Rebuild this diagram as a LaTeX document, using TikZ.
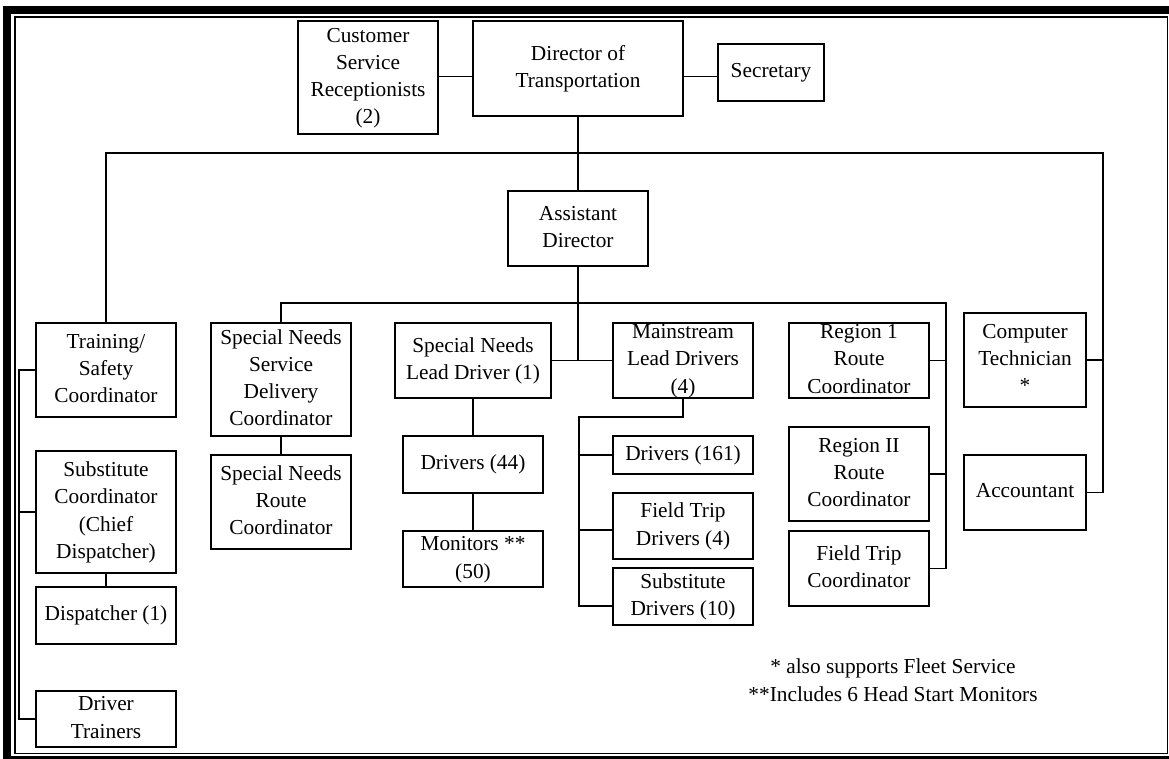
\documentclass[tikz,border=0pt]{standalone}
\usepackage{fontspec}
\setmainfont{Liberation Serif}
\usetikzlibrary{calc}

% A post of the chart: name, left, top, right, bottom (in px), text lines
\newcommand\orgunit[6]{%
  \pgfmathsetlengthmacro\bxw{(#4-#2)*0.75pt}%
  \pgfmathsetlengthmacro\bxh{(#5-#3)*0.75pt}%
  \node[post, minimum width=\bxw, minimum height=\bxh] (#1)
    at ({(#2+#4)/2},{(#3+#5)/2})
    {\vbox to \bxh{\vss\hbox{\begin{tabular}{@{}c@{}}#6\end{tabular}}\vss}};}

\tikzset{
  post/.style={draw=black, line width=0.85pt, inner sep=0pt, outer sep=0pt, fill=white},
  link/.style={draw=black, line width=0.8pt},
  note/.style={inner sep=0pt},
  outerframe/.style={draw=black, line width=6pt},
  innerframe/.style={draw=black, line width=1.4pt}
}

\begin{document}
\begin{tikzpicture}[x=0.75pt, y=-0.75pt, font=\fontsize{16}{20.4}\selectfont]
\useasboundingbox (0,0) rectangle (1169,759);

% page frame: heavy outer rule, thin inner rule
\begin{scope}
  \clip (0,0) rectangle (1169,759);
  \draw[outerframe] (7.2,10) rectangle (1178,760);
  \draw[innerframe] (15,17) rectangle (1167.5,753.5);
\end{scope}

% top level
\orgunit{cust}{298}{21}{438}{134}{Customer\\Service\\Receptionists\\(2)}
\orgunit{dir}{473}{21}{683}{116}{Director of\\Transportation}
\orgunit{sec}{718}{44}{824}{101}{Secretary}
\orgunit{ad}{508}{191}{648}{266}{Assistant\\Director}

% training / dispatch column
\orgunit{train}{36}{323}{176}{417}{Training/\\Safety\\Coordinator}
\orgunit{subc}{36}{451}{176}{573}{Substitute\\Coordinator\\(Chief\\Dispatcher)}
\orgunit{disp}{36}{587}{176}{644}{Dispatcher (1)}
\orgunit{dtr}{36}{691}{176}{747}{Driver\\Trainers}

% special needs
\orgunit{snsdc}{211}{323}{351}{436}{Special Needs\\Service\\Delivery\\Coordinator}
\orgunit{snrc}{211}{455}{351}{549}{Special Needs\\Route\\Coordinator}
\orgunit{snld}{395}{323}{551}{398}{Special Needs\\Lead Driver (1)}
\orgunit{d44}{403}{436}{543}{493}{Drivers (44)}
\orgunit{mon}{403}{531}{543}{587}{Monitors **\\(50)}

% mainstream
\orgunit{ml}{613}{323}{753}{398}{Mainstream\\Lead Drivers\\(4)}
\orgunit{d161}{613}{436}{753}{474}{Drivers (161)}
\orgunit{ftd}{613}{493}{753}{559}{Field Trip\\Drivers (4)}
\orgunit{sub}{613}{568}{753}{625}{Substitute\\Drivers (10)}

% route coordination
\orgunit{r1}{789}{323}{929}{398}{Region 1\\Route\\Coordinator}
\orgunit{r2}{789}{427}{929}{521}{Region II\\Route\\Coordinator}
\orgunit{ftc}{789}{531}{929}{606}{Field Trip\\Coordinator}

% staff
\orgunit{ct}{964}{313}{1086}{407}{Computer\\Technician\\{*}}
\orgunit{acct}{964}{455}{1086}{530}{Accountant}

% footnotes
\node[note] (notes) at (893,682)
  {\begin{tabular}{@{}c@{}}* also supports Fleet Service\\{**}Includes 6 Head Start Monitors\end{tabular}};

% junction points
\coordinate (topbar) at (0,76.5);
\coordinate (bar1R) at (1103,153);
\coordinate (bar2R) at (946,303);
\coordinate (mlturn) at (579,417);
\coordinate (lspine) at (19,0);
\coordinate (ftdjoin) at ($(ftd.west)+(0,4)$);
\coordinate (subjoin) at ($(sub.west)+(0,9.5)$);

% director level
\draw[link] (cust.east |- topbar) -- (dir.west |- topbar);
\draw[link] (dir.east |- topbar) -- (sec.west |- topbar);
\draw[link] (dir.south) -- (ad.north);
\draw[link] (train.north) |- (bar1R) |- (acct.east);
\draw[link] (ct.east) -- (ct.east -| bar1R);

% assistant director level
\draw[link] (snsdc.north) |- (bar2R) |- (ftc.east);
\draw[link] (r1.east) -- (r1.east -| bar2R);
\draw[link] (r2.east) -- (r2.east -| bar2R);
\draw[link] (ad.south) -- (ad.south |- snld.east);
\draw[link] (snld.east) -- (ml.west);
\draw[link] (snsdc.south) -- (snrc.north);
\draw[link] (snld.south) -- (snld.south |- d44.north);
\draw[link] (d44.south) -- (mon.north);

% mainstream drivers
\draw[link] (ml.south) |- (mlturn) |- (subjoin);
\draw[link] (d161.west) -- (d161.west -| mlturn);
\draw[link] (ftdjoin) -- (ftdjoin -| mlturn);

% training column
\draw[link] (train.west) -| (lspine |- dtr.west) -- (dtr.west);
\draw[link] (subc.west) -- (subc.west -| lspine);
\draw[link] (subc.south) -- (disp.north);
\end{tikzpicture}
\end{document}
